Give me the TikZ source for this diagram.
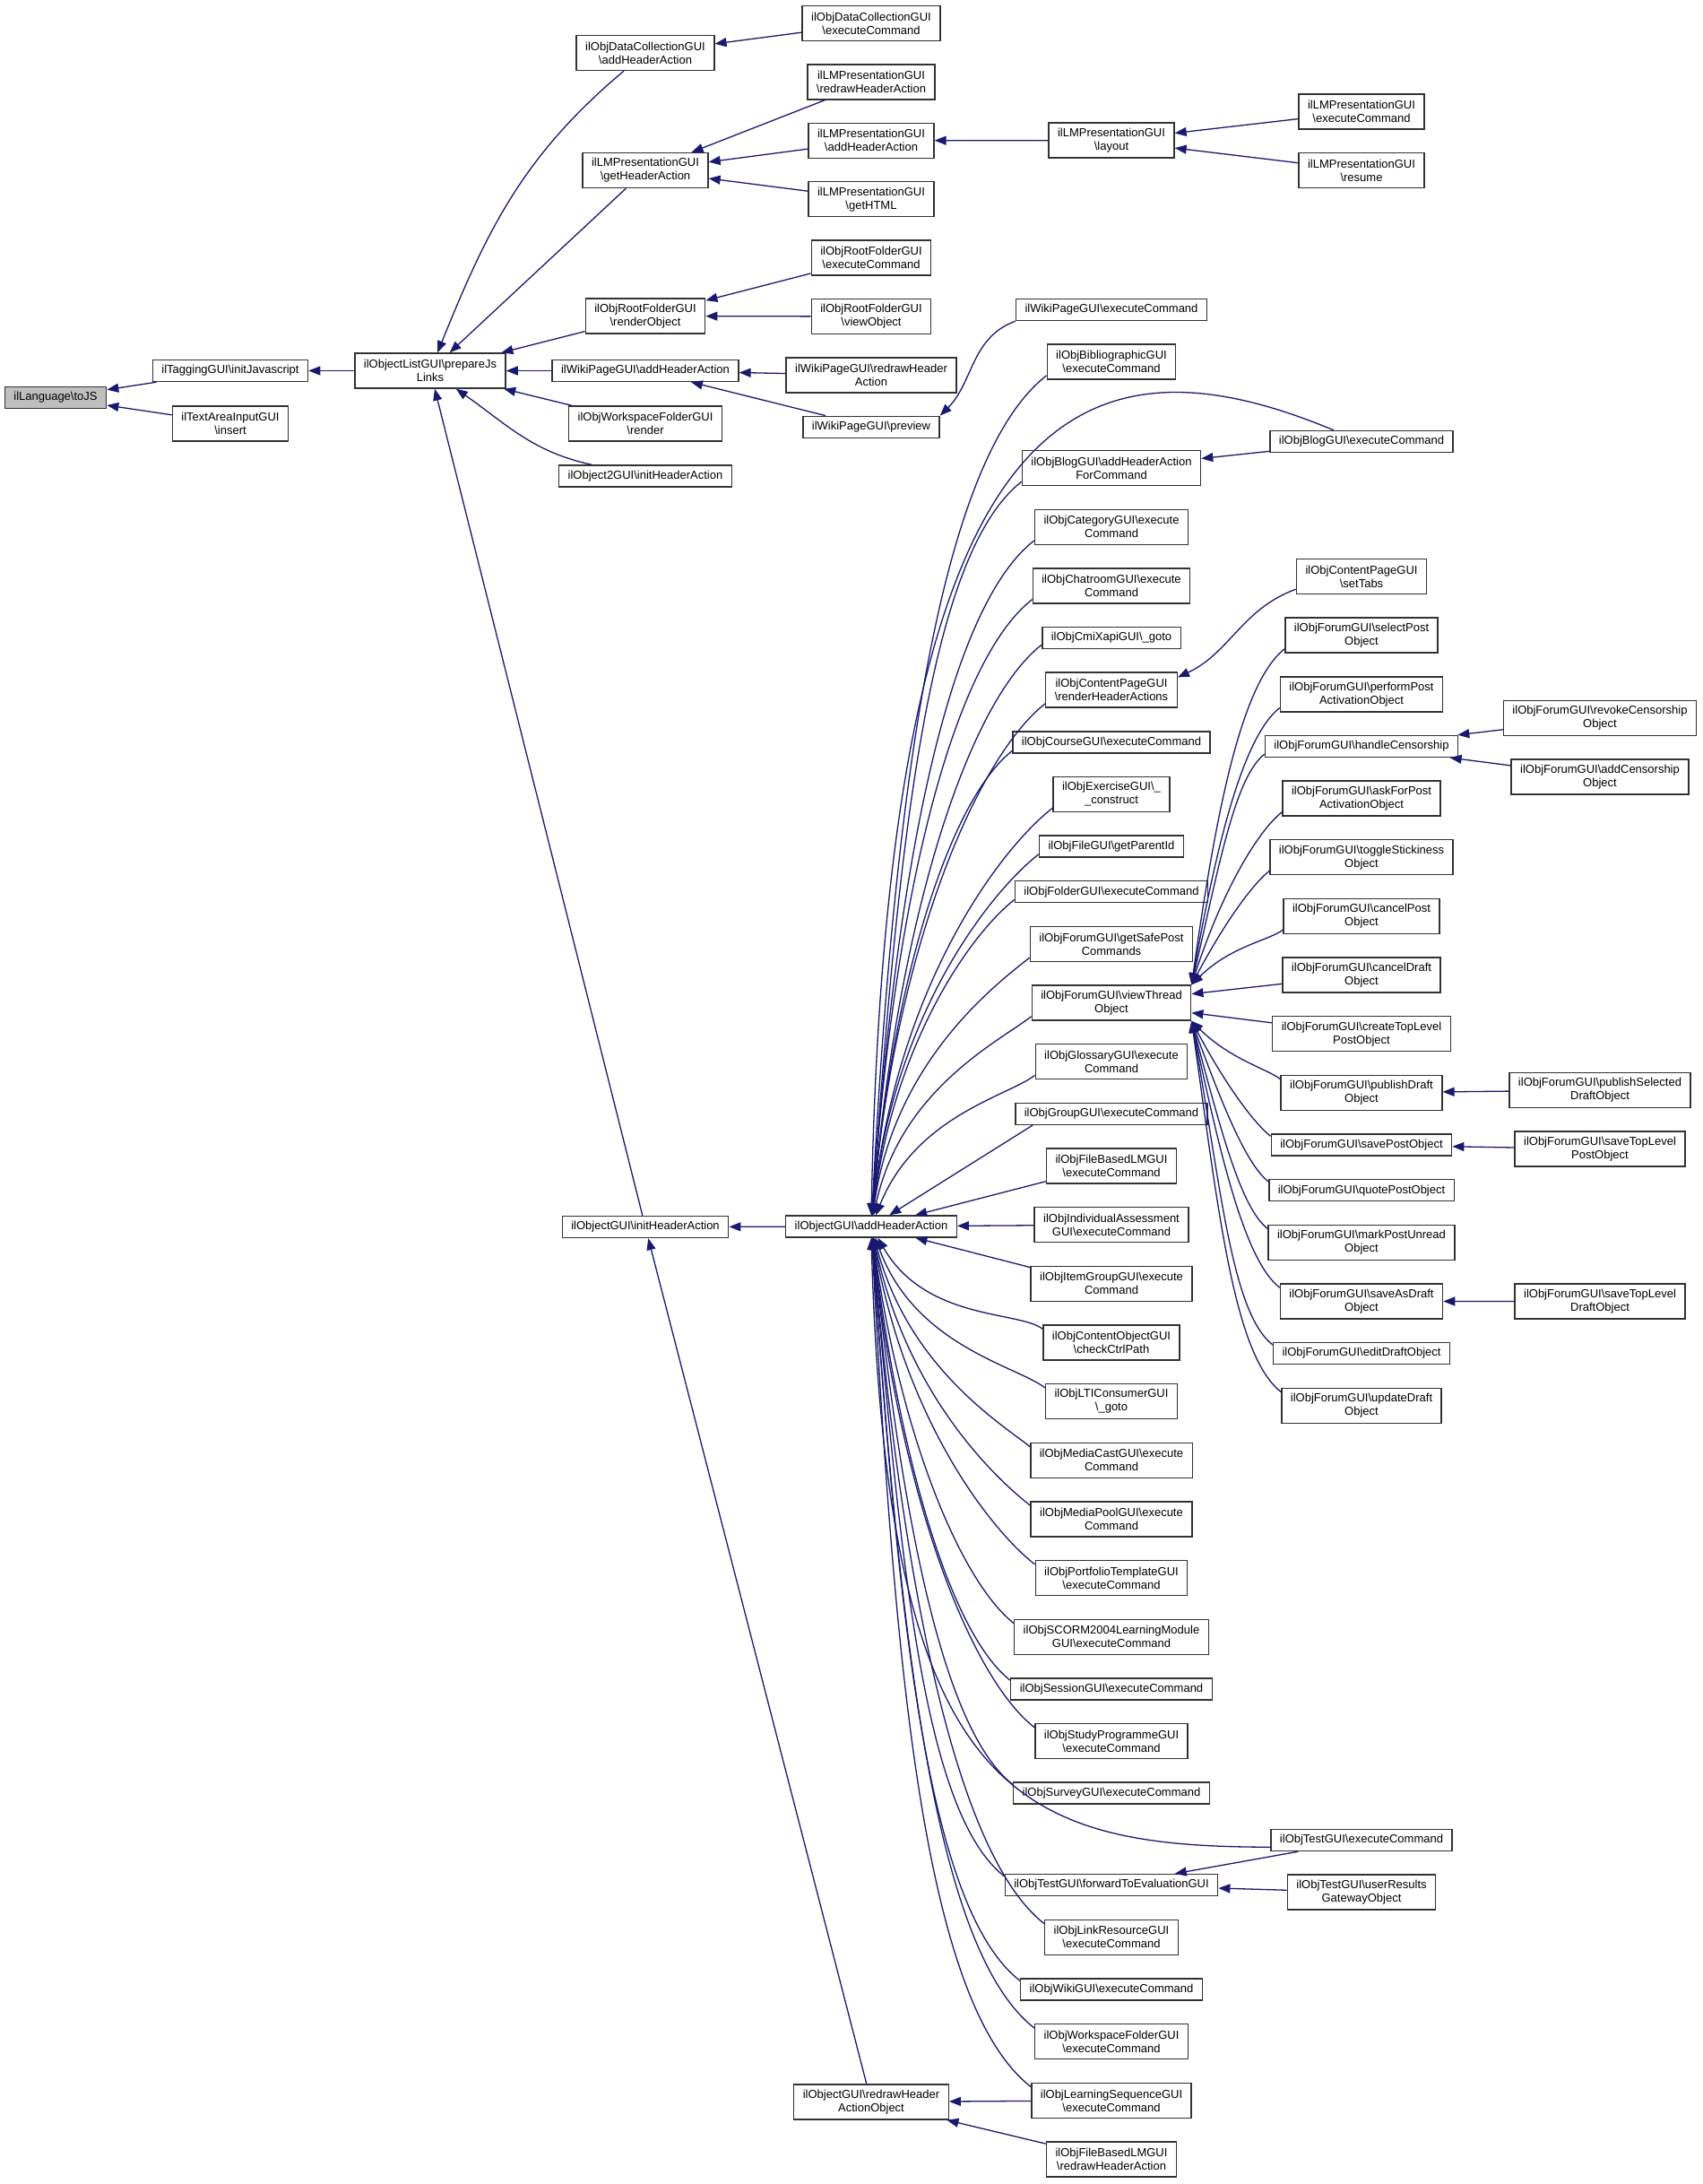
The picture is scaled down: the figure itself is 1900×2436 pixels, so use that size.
\documentclass[tikz,border=0pt]{standalone}
\usepackage{fontspec}
\setmainfont{Liberation Sans}
\usepackage{tikz}
\usetikzlibrary{positioning, arrows.meta}

\definecolor{edgeblue}{RGB}{25,25,112}
\definecolor{rootgray}{RGB}{191,191,191}
\definecolor{boxline}{RGB}{50,50,50}
\newcommand{\bsl}{\textbackslash}
\newcommand{\nodefont}{\fontsize{13pt}{15pt}\selectfont}

\begin{document}
\begin{tikzpicture}[
    x=1pt, y=-1pt,
    func_node/.style={rectangle, draw=boxline, fill=white, line width=1.4pt, inner xsep=10pt, inner ysep=3pt, minimum height=24pt, align=center, font=\nodefont},
    tall_node/.style={func_node, minimum height=39pt},
    root_node/.style={func_node, fill=rootgray},
    edge_style/.style={draw=edgeblue, line width=1.3pt, >={Triangle[length=13pt, width=10pt]}, <-},
    fan_up/.style={edge_style, in=218, out looseness=1.3, in looseness=0.4},
    fan_down/.style={edge_style, in=142, out looseness=1.3, in looseness=0.4}
]

\useasboundingbox (0,0) rectangle (1900,2436);

% Root and its callers
\node[root_node] (toJS) at (62,443.5) {ilLanguage\bsl toJS};
\node[func_node] (tag) at (257,413.5) {ilTaggingGUI\bsl initJavascript};
\node[tall_node] (tai) at (257,472.5) {ilTextAreaInputGUI\\\bsl insert};
\node[tall_node] (pjl) at (480,413.5) {ilObjectListGUI\bsl prepareJs\\Links};

% Callers of prepareJsLinks
\node[tall_node] (dcAdd) at (720,59) {ilObjDataCollectionGUI\\\bsl addHeaderAction};
\node[tall_node] (lmGet) at (720,190) {ilLMPresentationGUI\\\bsl getHeaderAction};
\node[tall_node] (rfRender) at (720,352.5) {ilObjRootFolderGUI\\\bsl renderObject};
\node[func_node] (wikiAdd) at (720,413.5) {ilWikiPageGUI\bsl addHeaderAction};
\node[tall_node] (wsRender) at (720,472.5) {ilObjWorkspaceFolderGUI\\\bsl render};
\node[func_node] (obj2) at (720,531) {ilObject2GUI\bsl initHeaderAction};
\node[func_node] (ohInit) at (720,1368.5) {ilObjectGUI\bsl initHeaderAction};

% Fourth column
\node[tall_node] (dcExec) at (972,26) {ilObjDataCollectionGUI\\\bsl executeCommand};
\node[tall_node, below=25pt of dcExec] (lmRedraw) {ilLMPresentationGUI\\\bsl redrawHeaderAction};
\node[tall_node, below=25pt of lmRedraw] (lmAdd) {ilLMPresentationGUI\\\bsl addHeaderAction};
\node[tall_node, below=25pt of lmAdd] (lmHTML) {ilLMPresentationGUI\\\bsl getHTML};
\node[tall_node, below=25pt of lmHTML] (rfExec) {ilObjRootFolderGUI\\\bsl executeCommand};
\node[tall_node, below=25pt of rfExec] (rfView) {ilObjRootFolderGUI\\\bsl viewObject};
\node[tall_node, below=25pt of rfView] (wikiRedraw) {ilWikiPageGUI\bsl redrawHeader\\Action};
\node[func_node, below=25pt of wikiRedraw] (preview) {ilWikiPageGUI\bsl preview};
\node[func_node] (ohA) at (972,1368) {ilObjectGUI\bsl addHeaderAction};
\node[tall_node] (redrawHAO) at (972,2344.5) {ilObjectGUI\bsl redrawHeader\\ActionObject};

% Fifth column
\node[tall_node] (layout) at (1240,156.6) {ilLMPresentationGUI\\\bsl layout};
\node[func_node] (wikiExec) at (1240,345.5) {ilWikiPageGUI\bsl executeCommand};
\node[tall_node, below=25.25pt of wikiExec] (bib) {ilObjBibliographicGUI\\\bsl executeCommand};
\node[tall_node, below=78pt of bib] (blogAdd) {ilObjBlogGUI\bsl addHeaderAction\\ForCommand};
\node[tall_node, below=25.25pt of blogAdd] (cat) {ilObjCategoryGUI\bsl execute\\Command};
\node[tall_node, below=25.25pt of cat] (chat) {ilObjChatroomGUI\bsl execute\\Command};
\node[func_node, below=25.25pt of chat] (cmi) {ilObjCmiXapiGUI\bsl\_goto};
\node[tall_node, below=25.25pt of cmi] (cpRender) {ilObjContentPageGUI\\\bsl renderHeaderActions};
\node[func_node, below=25.25pt of cpRender] (course) {ilObjCourseGUI\bsl executeCommand};
\node[tall_node, below=25.25pt of course] (exer) {ilObjExerciseGUI\bsl\_\\\_construct};
\node[func_node, below=25.25pt of exer] (file) {ilObjFileGUI\bsl getParentId};
\node[func_node, below=25.25pt of file] (folder) {ilObjFolderGUI\bsl executeCommand};
\node[tall_node, below=25.25pt of folder] (safePost) {ilObjForumGUI\bsl getSafePost\\Commands};
\node[tall_node, below=25.25pt of safePost] (vt) {ilObjForumGUI\bsl viewThread\\Object};
\node[tall_node, below=25.25pt of vt] (gloss) {ilObjGlossaryGUI\bsl execute\\Command};
\node[func_node, below=25.25pt of gloss] (group) {ilObjGroupGUI\bsl executeCommand};
\node[tall_node, below=25.25pt of group] (fblmExec) {ilObjFileBasedLMGUI\\\bsl executeCommand};
\node[tall_node, below=25.25pt of fblmExec] (ia) {ilObjIndividualAssessment\\GUI\bsl executeCommand};
\node[tall_node, below=25.25pt of ia] (itemGrp) {ilObjItemGroupGUI\bsl execute\\Command};
\node[tall_node, below=25.25pt of itemGrp] (contObj) {ilObjContentObjectGUI\\\bsl checkCtrlPath};
\node[tall_node, below=25.25pt of contObj] (lti) {ilObjLTIConsumerGUI\\\bsl\_goto};
\node[tall_node, below=25.25pt of lti] (mcast) {ilObjMediaCastGUI\bsl execute\\Command};
\node[tall_node, below=25.25pt of mcast] (mpool) {ilObjMediaPoolGUI\bsl execute\\Command};
\node[tall_node, below=25.25pt of mpool] (portf) {ilObjPortfolioTemplateGUI\\\bsl executeCommand};
\node[tall_node, below=25.25pt of portf] (scorm) {ilObjSCORM2004LearningModule\\GUI\bsl executeCommand};
\node[func_node, below=25.25pt of scorm] (session) {ilObjSessionGUI\bsl executeCommand};
\node[tall_node, below=25.25pt of session] (study) {ilObjStudyProgrammeGUI\\\bsl executeCommand};
\node[func_node, below=25.25pt of study] (survey) {ilObjSurveyGUI\bsl executeCommand};
\node[func_node, below=77pt of survey] (fwdEval) {ilObjTestGUI\bsl forwardToEvaluationGUI};
\node[tall_node, below=25.3pt of fwdEval] (linkRes) {ilObjLinkResourceGUI\\\bsl executeCommand};
\node[func_node, below=25.3pt of linkRes] (wikiObj) {ilObjWikiGUI\bsl executeCommand};
\node[tall_node, below=25.3pt of wikiObj] (wsExec) {ilObjWorkspaceFolderGUI\\\bsl executeCommand};
\node[tall_node, below=25.3pt of wsExec] (learnSeq) {ilObjLearningSequenceGUI\\\bsl executeCommand};
\node[tall_node, below=25.3pt of learnSeq] (fblmRedraw) {ilObjFileBasedLMGUI\\\bsl redrawHeaderAction};

% Sixth column
\node[tall_node] (lmExec) at (1519,124.5) {ilLMPresentationGUI\\\bsl executeCommand};
\node[tall_node, below=25.25pt of lmExec] (lmResume) {ilLMPresentationGUI\\\bsl resume};
\node[func_node] (blogExec) at (1519,492.5) {ilObjBlogGUI\bsl executeCommand};
\node[tall_node] (setTabs) at (1519,643) {ilObjContentPageGUI\\\bsl setTabs};
\node[tall_node, below=25.25pt of setTabs] (sel) {ilObjForumGUI\bsl selectPost\\Object};
\node[tall_node, below=25.25pt of sel] (perf) {ilObjForumGUI\bsl performPost\\ActivationObject};
\node[func_node, below=25.25pt of perf] (cens) {ilObjForumGUI\bsl handleCensorship};
\node[tall_node, below=25.25pt of cens] (askFor) {ilObjForumGUI\bsl askForPost\\ActivationObject};
\node[tall_node, below=25.25pt of askFor] (toggle) {ilObjForumGUI\bsl toggleStickiness\\Object};
\node[tall_node, below=25.25pt of toggle] (cancelPost) {ilObjForumGUI\bsl cancelPost\\Object};
\node[tall_node, below=25.25pt of cancelPost] (cancelDraft) {ilObjForumGUI\bsl cancelDraft\\Object};
\node[tall_node, below=25.25pt of cancelDraft] (createTop) {ilObjForumGUI\bsl createTopLevel\\PostObject};
\node[tall_node, below=25.25pt of createTop] (publishDraft) {ilObjForumGUI\bsl publishDraft\\Object};
\node[func_node, below=25.25pt of publishDraft] (savePost) {ilObjForumGUI\bsl savePostObject};
\node[func_node, below=25.25pt of savePost] (quote) {ilObjForumGUI\bsl quotePostObject};
\node[tall_node, below=25.25pt of quote] (markPost) {ilObjForumGUI\bsl markPostUnread\\Object};
\node[tall_node, below=25.25pt of markPost] (saveAsDraft) {ilObjForumGUI\bsl saveAsDraft\\Object};
\node[func_node, below=25.25pt of saveAsDraft] (editDraft) {ilObjForumGUI\bsl editDraftObject};
\node[tall_node, below=25.25pt of editDraft] (updateDraft) {ilObjForumGUI\bsl updateDraft\\Object};
\node[func_node] (testExec) at (1519,2052.5) {ilObjTestGUI\bsl executeCommand};
\node[tall_node, below=25.25pt of testExec] (userRes) {ilObjTestGUI\bsl userResults\\GatewayObject};

% Seventh column
\node[tall_node] (revoke) at (1785,801) {ilObjForumGUI\bsl revokeCensorship\\Object};
\node[tall_node, below=25.25pt of revoke] (addCens) {ilObjForumGUI\bsl addCensorship\\Object};
\node[tall_node] (publishSel) at (1785,1216) {ilObjForumGUI\bsl publishSelected\\DraftObject};
\node[tall_node, below=25.25pt of publishSel] (saveTopPost) {ilObjForumGUI\bsl saveTopLevel\\PostObject};
\node[tall_node] (saveTopDraft) at (1785,1451.5) {ilObjForumGUI\bsl saveTopLevel\\DraftObject};

% Calls into toJS and prepareJsLinks
\draw[edge_style] (toJS) -- (tag);
\draw[edge_style] (toJS) -- (tai);
\draw[edge_style] (tag) -- (pjl);
\draw[edge_style] (pjl) to[out=68, in=220] (dcAdd);
\draw[edge_style] (pjl) -- (lmGet);
\draw[edge_style] (pjl) -- (rfRender);
\draw[edge_style] (pjl) -- (wikiAdd);
\draw[edge_style] (pjl) -- (wsRender);
\draw[edge_style] (pjl) to[out=-35, in=168] (obj2);
\draw[edge_style] (pjl) -- (ohInit);

% Upper branches
\draw[edge_style] (dcAdd) -- (dcExec);
\draw[edge_style] (lmGet) -- (lmRedraw);
\draw[edge_style] (lmGet) -- (lmAdd);
\draw[edge_style] (lmGet) -- (lmHTML);
\draw[edge_style] (lmAdd) -- (layout);
\draw[edge_style] (layout) -- (lmExec);
\draw[edge_style] (layout) -- (lmResume);
\draw[edge_style] (rfRender) -- (rfExec);
\draw[edge_style] (rfRender) -- (rfView);
\draw[edge_style] (wikiAdd) -- (wikiRedraw);
\draw[edge_style] (wikiAdd) -- (preview);
\draw[edge_style] (preview.north east) to[out=45, in=200] (wikiExec.south west);

% initHeaderAction and redrawHeaderActionObject
\draw[edge_style] (ohInit) -- (ohA);
\draw[edge_style] (ohInit) -- (redrawHAO);
\draw[edge_style] (redrawHAO) -- (learnSeq);
\draw[edge_style] (redrawHAO) -- (fblmRedraw);

% Callers of addHeaderAction above it
\draw[edge_style] (ohA.north) .. controls (990,450) and (1200,360) .. ([xshift=-31pt]blogExec.north);
\draw[fan_up] (ohA) to[out=87] ([yshift=5pt]bib.south west);
\draw[fan_up] (ohA) to[out=86] ([yshift=5pt]blogAdd.south west);
\draw[fan_up] (ohA) to[out=86] ([yshift=5pt]cat.south west);
\draw[fan_up] (ohA) to[out=86] ([yshift=5pt]chat.south west);
\draw[fan_up] (ohA) to[out=85] ([yshift=5pt]cmi.south west);
\draw[fan_up] (ohA) to[out=85] ([yshift=5pt]cpRender.south west);
\draw[fan_up] (ohA) to[out=85] ([yshift=3pt]course.south west);
\draw[fan_up] (ohA) to[out=84] ([yshift=5pt]exer.south west);
\draw[fan_up] (ohA) to[out=84] ([yshift=4pt]file.south west);
\draw[fan_up] (ohA) to[out=83] ([yshift=4pt]folder.south west);
\draw[fan_up] (ohA) to[out=82] ([yshift=5pt]safePost.south west);
\draw[fan_up] (ohA) to[out=78] ([yshift=5pt]vt.south west);
\draw[fan_up] (ohA) to[out=68] ([yshift=5pt]gloss.south west);
\draw[edge_style] (ohA) -- ([xshift=20pt]group.south west);
\draw[edge_style] (ohA) -- ([yshift=3pt]fblmExec.south west);
\draw[edge_style] (ohA) -- (ia);
\draw[edge_style] (ohA) -- ([yshift=-2pt]itemGrp.north west);

% Callers of addHeaderAction below it
\draw[fan_down] (ohA) to[out=-60] ([yshift=-5pt]contObj.north west);
\draw[fan_down] (ohA) to[out=-70] ([yshift=-5pt]lti.north west);
\draw[fan_down] (ohA) to[out=-75] ([yshift=-5pt]mcast.north west);
\draw[fan_down] (ohA) to[out=-78] ([yshift=-5pt]mpool.north west);
\draw[fan_down] (ohA) to[out=-80] ([yshift=-5pt]portf.north west);
\draw[fan_down] (ohA) to[out=-82] ([yshift=-5pt]scorm.north west);
\draw[fan_down] (ohA) to[out=-83] ([yshift=-3pt]session.north west);
\draw[fan_down] (ohA) to[out=-84] ([yshift=-5pt]study.north west);
\draw[fan_down] (ohA) to[out=-84] ([yshift=-3pt]survey.north west);
\draw[edge_style] (ohA.south) .. controls (990,2000) and (1130,2060) .. ([yshift=5pt]testExec.south west);
\draw[fan_down] (ohA) to[out=-85] ([yshift=-3pt]fwdEval.north west);
\draw[fan_down] (ohA) to[out=-85] ([yshift=-5pt]linkRes.north west);
\draw[fan_down] (ohA) to[out=-86] ([yshift=-3pt]wikiObj.north west);
\draw[fan_down] (ohA) to[out=-86] ([yshift=-5pt]wsExec.north west);
\draw[fan_down] (ohA) to[out=-87] ([yshift=-5pt]learnSeq.north west);

% Side branches
\draw[edge_style] (blogAdd) -- (blogExec);
\draw[edge_style] ([yshift=-6pt]cpRender.north east) to[out=25, in=200] ([yshift=6pt]setTabs.south west);
\draw[edge_style] (fwdEval) -- (testExec);
\draw[edge_style] (fwdEval) -- (userRes);

% Callers of viewThreadObject
\draw[fan_up] (vt.north east) to[out=82] ([yshift=5pt]sel.south west);
\draw[fan_up] (vt.north east) to[out=80] ([yshift=5pt]perf.south west);
\draw[fan_up] (vt.north east) to[out=77] ([yshift=4pt]cens.south west);
\draw[fan_up] (vt.north east) to[out=72] ([yshift=5pt]askFor.south west);
\draw[fan_up] (vt.north east) to[out=62] ([yshift=5pt]toggle.south west);
\draw[fan_up] (vt.north east) to[out=45] ([yshift=5pt]cancelPost.south west);
\draw[edge_style] (vt) -- (cancelDraft);
\draw[edge_style] (vt) -- (createTop);
\draw[fan_down] (vt.south east) to[out=-45] ([yshift=-5pt]publishDraft.north west);
\draw[fan_down] (vt.south east) to[out=-62] ([yshift=-3pt]savePost.north west);
\draw[fan_down] (vt.south east) to[out=-70] ([yshift=-3pt]quote.north west);
\draw[fan_down] (vt.south east) to[out=-75] ([yshift=-5pt]markPost.north west);
\draw[fan_down] (vt.south east) to[out=-78] ([yshift=-5pt]saveAsDraft.north west);
\draw[fan_down] (vt.south east) to[out=-80] ([yshift=-3pt]editDraft.north west);
\draw[fan_down] (vt.south east) to[out=-82] ([yshift=-5pt]updateDraft.north west);

% Forum sub-calls
\draw[edge_style] (cens) -- (revoke);
\draw[edge_style] (cens) -- (addCens);
\draw[edge_style] (publishDraft) -- (publishSel);
\draw[edge_style] (savePost) -- (saveTopPost);
\draw[edge_style] (saveAsDraft) -- (saveTopDraft);

\end{tikzpicture}
\end{document}
